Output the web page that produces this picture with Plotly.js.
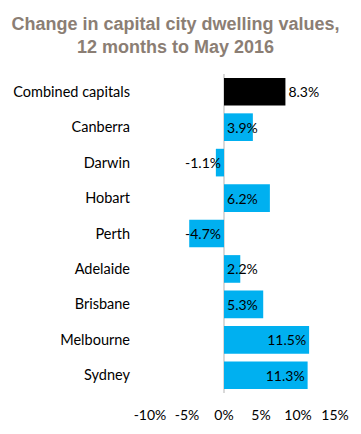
<!DOCTYPE html>
<html>
<head>
<meta charset="utf-8">
<script src="https://cdn.plot.ly/plotly-3.0.1.min.js"></script>
<style>html,body{margin:0;padding:0;background:#fff;}#chart{width:361px;height:434px;}</style>
</head>
<body>
<div id="chart"></div>
<script>
// Data (top to bottom as displayed)
const categories = ["Combined capitals", "Canberra", "Darwin", "Hobart", "Perth", "Adelaide", "Brisbane", "Melbourne", "Sydney"];
const values = [8.3, 3.9, -1.1, 6.2, -4.7, 2.2, 5.3, 11.5, 11.3];
const labels = ["8.3%", "3.9%", "-1.1%", "6.2%", "-4.7%", "2.2%", "5.3%", "11.5%", "11.3%"];
const xTickVals = [-10, -5, 0, 5, 10, 15];
const xTickText = ["-10%", "-5%", "0%", "5%", "10%", "15%"];

const BLUE = "#00B0F0";
const FONT = "Lato, 'Open Sans', sans-serif";

// label anchoring groups (presentation)
const endAnchored = ["Melbourne", "Sydney"];
const outsideLabel = ["Combined capitals"];

function subset(pred) {
  const y = [], x = [], t = [], c = [], pos = [];
  categories.forEach((cat, i) => {
    if (pred(cat)) {
      y.push(cat); x.push(values[i]); t.push(labels[i]);
      c.push(cat === "Combined capitals" ? "#000000" : BLUE);
      pos.push(outsideLabel.includes(cat) ? "outside" : "inside");
    }
  });
  return {y, x, t, c, pos};
}

const a = subset(cat => !endAnchored.includes(cat));
const b = subset(cat => endAnchored.includes(cat));

const common = {
  type: "bar", orientation: "h",
  textfont: {family: FONT, size: 14, color: "#000"},
  insidetextfont: {family: FONT, size: 14, color: "#000"},
  outsidetextfont: {family: FONT, size: 14, color: "#000"},
  textangle: 0,
  constraintext: "none", cliponaxis: false,
  hoverinfo: "none", showlegend: false
};

const traces = [
  Object.assign({}, common, {y: a.y, x: a.x, text: a.t, textposition: a.pos, insidetextanchor: "start",
    marker: {color: a.c, line: {width: 0}}}),
  Object.assign({}, common, {y: b.y, x: b.x, text: b.t, textposition: b.pos, insidetextanchor: "end",
    marker: {color: b.c, line: {width: 0}}})
];

const layout = {
  width: 361, height: 434,
  margin: {l: 150, r: 26, t: 74, b: 41, pad: 0},
  paper_bgcolor: "#fff", plot_bgcolor: "#fff",
  barmode: "overlay", bargap: 0.22,
  title: {
    text: "Change in capital city dwelling values,<br>12 months to May 2016",
    font: {family: "'Liberation Sans', Arial, sans-serif", size: 18, color: "#8B7E74", weight: "bold"},
    xref: "container", x: 0.486, xanchor: "center",
    yref: "container", y: 0.932, yanchor: "top"
  },
  xaxis: {
    range: [-10, 15], tickvals: xTickVals, ticktext: xTickText,
    showgrid: false, zeroline: true, zerolinecolor: "#D9D9D9", zerolinewidth: 1.5,
    showline: false, ticks: "", ticklabelstandoff: 12,
    tickfont: {family: FONT, size: 14, color: "#000"}, fixedrange: true
  },
  yaxis: {
    type: "category", categoryorder: "array", categoryarray: categories,
    autorange: "reversed", showgrid: false, zeroline: false, showline: false, ticks: "",
    ticklabelstandoff: 19,
    tickfont: {family: FONT, size: 14.5, color: "#000"}, fixedrange: true
  },
  font: {family: FONT}
};

Plotly.newPlot("chart", traces, layout, {displayModeBar: false, staticPlot: true});
</script>
</body>
</html>
